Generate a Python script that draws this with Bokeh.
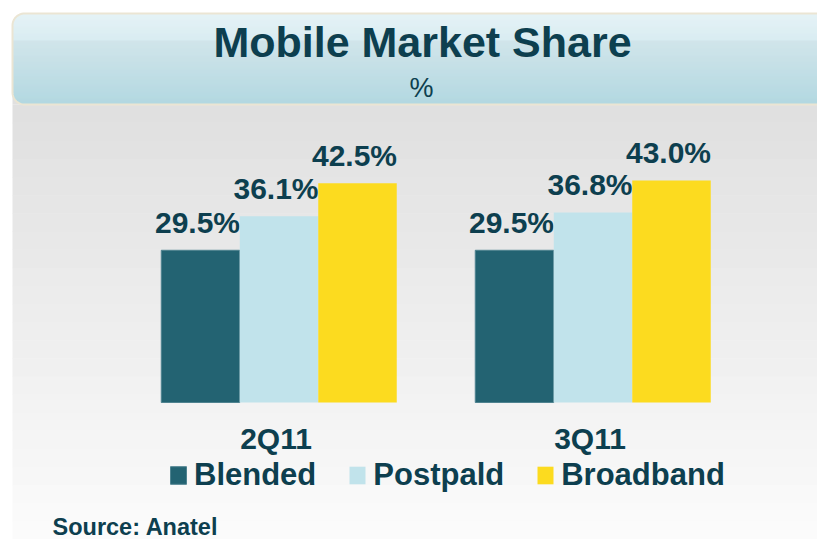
import math
from bokeh.plotting import figure
from bokeh.models import Range1d, ColumnDataSource, Legend, LegendItem
from bokeh.transform import dodge
from bokeh.core.properties import value
from bokeh.embed import file_html
from bokeh.resources import INLINE

# ---- data ----
quarters = ["2Q11", "3Q11"]
series = ["Blended", "Postpald", "Broadband"]
blended = [29.5, 29.5]
postpaid = [36.1, 36.8]
broadband = [42.5, 43.0]
title_text = "Mobile Market Share"
subtitle_text = "%"
source_text = "Source: Anatel"

# ---- styles ----
colors = ["#236372", "#c1e3eb", "#fcdb1f"]
dark = "#0d3f4f"
FONT = "Liberation Sans"

W, H = 817, 539
PXU_X = 314.0      # pixels per category unit
PXU_Y = 5.16       # pixels per percentage point
GROUP0_PX = 278.5  # x pixel of first category center
BASE_PX = 402.0    # y pixel (from top) of bar baseline
X0 = -GROUP0_PX / PXU_X
X1 = X0 + W / PXU_X
Y1 = BASE_PX / PXU_Y
Y0 = Y1 - H / PXU_Y


def dx(px):
    return X0 + px / PXU_X


def dy(py):
    return Y1 - py / PXU_Y


def lerp_color(c0, c1, t):
    return "#%02x%02x%02x" % tuple(int(round(a + (b - a) * t)) for a, b in zip(c0, c1))


p = figure(width=W, height=H, x_range=Range1d(X0, X1), y_range=Range1d(Y0, Y1),
           output_backend="svg", toolbar_location=None,
           x_axis_location=None, y_axis_location=None,
           min_border=0, outline_line_color=None,
           background_fill_color="white", border_fill_color="white")
p.xgrid.visible = False
p.ygrid.visible = False

# ---- gray panel with vertical gradient ----
g_top, g_bot = (224, 224, 224), (251, 251, 251)
panel_left, panel_top, grad_start = 12, 40, 104
n = 24
lefts, rights, tops, bottoms, fills = [], [], [], [], []
lefts.append(dx(panel_left)); rights.append(dx(W + 5))
tops.append(dy(panel_top)); bottoms.append(dy(grad_start)); fills.append(lerp_color(g_top, g_bot, 0))
step = (H - grad_start) / n
for i in range(n):
    y0 = grad_start + i * step
    lefts.append(dx(panel_left)); rights.append(dx(W + 5))
    tops.append(dy(y0)); bottoms.append(dy(y0 + step + 0.5))
    fills.append(lerp_color(g_top, g_bot, i / (n - 1)))
p.quad(left=lefts, right=rights, top=tops, bottom=bottoms, fill_color=fills, line_color=None)

# ---- header box with gradient and rounded left corners ----
h_top, h_bot = (221, 238, 243), (163, 213, 225)
hx, hy0, hy1, r = 12.0, 13.0, 104.0, 12.0
lefts, rights, tops, bottoms, fills = [], [], [], [], []
rows = int(hy1 - hy0)
for i in range(rows):
    ya = hy0 + i
    yc = ya + 0.5
    inset = 0.0
    if yc < hy0 + r:
        d = hy0 + r - yc
        inset = r - (r * r - d * d) ** 0.5
    elif yc > hy1 - r:
        d = yc - (hy1 - r)
        inset = r - (r * r - d * d) ** 0.5
    lefts.append(dx(hx + inset)); rights.append(dx(W + 5))
    tops.append(dy(ya)); bottoms.append(dy(ya + 1.05))
    fills.append(lerp_color(h_top, h_bot, i / (rows - 1)))
p.quad(left=lefts, right=rights, top=tops, bottom=bottoms, fill_color=fills, line_color=None)

px_list, py_list = [W + 5, hx + r], [hy0, hy0]
for k in range(1, 16):
    a = math.pi / 2 + k * (math.pi / 2) / 15
    px_list.append(hx + r + r * math.cos(a)); py_list.append(hy0 + r - r * math.sin(a))
px_list.append(hx); py_list.append(hy1 - r)
for k in range(1, 16):
    a = math.pi + k * (math.pi / 2) / 15
    px_list.append(hx + r + r * math.cos(a)); py_list.append(hy1 - r - r * math.sin(a))
px_list.append(W + 5); py_list.append(hy1)
p.line(x=[dx(v) for v in px_list], y=[dy(v) for v in py_list], line_color="#ebe5d3", line_width=2)

# ---- titles ----
p.text(x=[dx(422)], y=[dy(41)], text=[title_text], text_font=value(FONT), text_font_style="bold",
       text_font_size="43px", text_color=dark, text_align="center", text_baseline="middle")
p.text(x=[dx(421)], y=[dy(87)], text=[subtitle_text], text_font=value(FONT), text_font_style="normal",
       text_font_size="27px", text_color=dark, text_align="center", text_baseline="middle")

# ---- bars ----
src = ColumnDataSource(dict(
    idx=list(range(len(quarters))), quarter=quarters,
    blended=blended, postpaid=postpaid, broadband=broadband,
    blended_lbl=["%.1f%%" % v for v in blended],
    postpaid_lbl=["%.1f%%" % v for v in postpaid],
    broadband_lbl=["%.1f%%" % v for v in broadband],
))

cols = ["blended", "postpaid", "broadband"]
offsets = [-0.25, 0.0, 0.25]
line_cols = ["#4f8390", None, None]
renderers = []
for col, off, c, lc in zip(cols, offsets, colors, line_cols):
    rr = p.vbar(x=dodge("idx", off), top=col, width=0.25, bottom=0, source=src,
                fill_color=c, line_color=lc, line_width=1)
    renderers.append(rr)
    p.text(x=dodge("idx", off), y=col, text=col + "_lbl", source=src,
           text_font=value(FONT), text_font_style="bold", text_font_size="30px",
           text_color=dark, text_align="center", text_baseline="middle",
           x_offset=-3, y_offset=-28)

# category labels
p.text(x="idx", y=0, text="quarter", source=src, text_font=value(FONT), text_font_style="bold",
       text_font_size="30px", text_color=dark, text_align="center", text_baseline="middle",
       x_offset=-3, y_offset=36)

# ---- legend ----
legend = Legend(items=[LegendItem(label=s, renderers=[rr]) for s, rr in zip(series, renderers)],
                orientation="horizontal", location=(168, 46),
                glyph_width=20, glyph_height=22, label_standoff=6, spacing=31,
                padding=0, margin=0, border_line_color=None, background_fill_alpha=0,
                label_text_font=FONT, label_text_font_style="bold", label_text_font_size="31px",
                label_text_color=dark)
p.add_layout(legend)

# ---- source ----
p.text(x=[dx(52)], y=[dy(526)], text=[source_text], text_font=value(FONT), text_font_style="bold",
       text_font_size="23.5px", text_color=dark, text_align="left", text_baseline="middle")

open("out.html", "w").write(file_html(p, INLINE))
